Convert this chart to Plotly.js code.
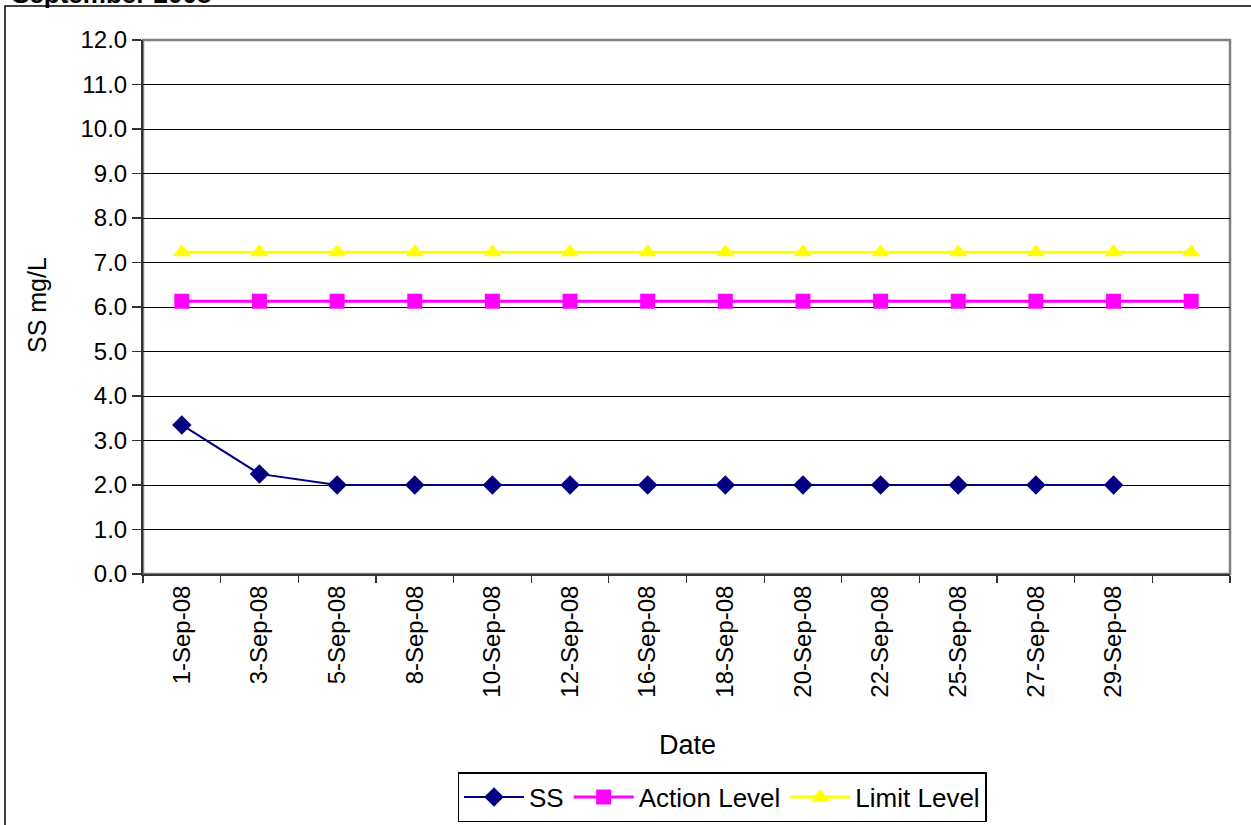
<!DOCTYPE html>
<html>
<head>
<meta charset="utf-8">
<script src="https://cdn.plot.ly/plotly-3.0.1.min.js"></script>
<style>
html,body{margin:0;padding:0;background:#fff;}
#chart{width:1251px;height:825px;}
</style>
</head>
<body>
<div id="chart"></div>
<script>
const dates = ["1-Sep-08","3-Sep-08","5-Sep-08","8-Sep-08","10-Sep-08","12-Sep-08","16-Sep-08","18-Sep-08","20-Sep-08","22-Sep-08","25-Sep-08","27-Sep-08","29-Sep-08"," "];
const ssValues = [3.35,2.25,2.0,2.0,2.0,2.0,2.0,2.0,2.0,2.0,2.0,2.0,2.0,null];
const actionLevel = [6.13,6.13,6.13,6.13,6.13,6.13,6.13,6.13,6.13,6.13,6.13,6.13,6.13,6.13];
const limitLevel = [7.23,7.23,7.23,7.23,7.23,7.23,7.23,7.23,7.23,7.23,7.23,7.23,7.23,7.23];
const yTicks = [0,1,2,3,4,5,6,7,8,9,10,11,12];

const FONT = "Arial, 'Liberation Sans', sans-serif";
const L = 143, R = 1230, T = 40, B = 574;
const PW = R - L, PH = B - T;
const px = v => (v - L) / PW;
const py = v => (B - v) / PH;

const traces = [
  {x: dates, y: ssValues, name: "SS", type: "scatter", mode: "lines+markers",
   line: {color: "#000080", width: 2}, marker: {symbol: "diamond", size: 15, color: "#000080"}},
  {x: dates, y: actionLevel, name: "Action Level", type: "scatter", mode: "lines+markers",
   line: {color: "#FF00FF", width: 3}, marker: {symbol: "square", size: 15, color: "#FF00FF"}},
  {x: dates, y: limitLevel, name: "Limit Level", type: "scatter", mode: "lines+markers",
   line: {color: "#FFFF00", width: 3}, marker: {symbol: "triangle-up", size: 16, color: "#FFFF00"}}
];

const layout = {
  width: 1251, height: 825,
  margin: {l: L, r: 1251 - R, t: T, b: 825 - B, autoexpand: false},
  paper_bgcolor: "#fff", plot_bgcolor: "#fff",
  font: {family: FONT, size: 24, color: "#000"},
  showlegend: true,
  legend: {
    orientation: "h", x: px(722), xanchor: "center", y: py(797), yanchor: "middle",
    bordercolor: "#000", borderwidth: 1.5, bgcolor: "#fff",
    font: {family: FONT, size: 26, color: "#000"},
    itemwidth: 60, tracegroupgap: 0
  },
  xaxis: {
    type: "category", categoryorder: "array", categoryarray: dates,
    range: [-0.5, 13.5], automargin: false,
    tickangle: -90, tickson: "boundaries", ticks: "outside", ticklen: 7, tickcolor: "#333", tickwidth: 1.2,
    showline: true, linecolor: "#333", linewidth: 2, showgrid: false, zeroline: false,
    tickfont: {family: FONT, size: 24, color: "#000"},
    fixedrange: true
  },
  yaxis: {
    range: [0, 12], tickvals: yTicks, ticktext: yTicks.map(v => v.toFixed(1)),
    automargin: false,
    ticks: "outside", ticklen: 9, tickcolor: "#333", tickwidth: 1.2,
    showline: true, linecolor: "#333", linewidth: 2,
    showgrid: true, gridcolor: "#000", gridwidth: 1, zeroline: false,
    tickfont: {family: FONT, size: 24, color: "#000"},
    fixedrange: true
  },
  shapes: [
    {type: "rect", xref: "paper", yref: "paper", x0: 0, x1: 1, y0: 0, y1: 1,
     line: {color: "#808080", width: 2.5}, layer: "below"},
    {type: "rect", xref: "paper", yref: "paper",
     x0: px(5), x1: px(1262), y0: py(840), y1: py(6),
     line: {color: "#000", width: 1.5}, layer: "below"}
  ],
  annotations: [
    {text: "<b>September 2008</b>", xref: "paper", yref: "paper",
     x: px(10), xanchor: "left", y: py(11), yanchor: "bottom",
     showarrow: false, font: {family: FONT, size: 26, color: "#000"}},
    {text: "Date", xref: "paper", yref: "paper",
     x: px(687), xanchor: "center", y: py(745), yanchor: "middle",
     showarrow: false, font: {family: FONT, size: 27, color: "#000"}},
    {text: "SS mg/L", xref: "paper", yref: "paper", textangle: -90,
     x: px(37), xanchor: "center", y: py(305), yanchor: "middle",
     showarrow: false, font: {family: FONT, size: 25, color: "#000"}}
  ]
};

Plotly.newPlot("chart", traces, layout, {displayModeBar: false, staticPlot: true});
</script>
</body>
</html>
